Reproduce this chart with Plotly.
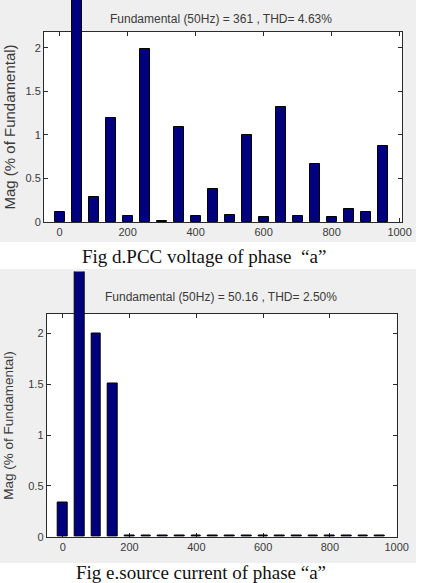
import plotly.graph_objects as go

# ---- data ----
freqs = [0, 50, 100, 150, 200, 250, 300, 350, 400, 450, 500, 550, 600, 650, 700, 750, 800, 850, 900, 950]
mag_voltage = [0.11, 100, 0.29, 1.19, 0.065, 1.98, 0.015, 1.09, 0.065, 0.38, 0.075, 1.0,
               0.055, 1.315, 0.065, 0.67, 0.055, 0.15, 0.11, 0.87]
mag_current = [0.34, 100, 2.0, 1.51, 0.012, 0.012, 0.012, 0.012, 0.012, 0.012, 0.012, 0.012,
               0.012, 0.012, 0.012, 0.012, 0.012, 0.012, 0.012, 0.012]
yticks = [0, 0.5, 1, 1.5, 2]
yticklabels = ["0", "0.5", "1", "1.5", "2"]
xticks = [0, 200, 400, 600, 800, 1000]
title_top = "Fundamental (50Hz) = 361 , THD= 4.63%"
title_bot = "Fundamental (50Hz) = 50.16 , THD= 2.50%"
caption_top = "Fig d.PCC voltage of phase  \u201ca\u201d"
caption_bot = "Fig e.source current of phase \u201ca\u201d"
ylabel = "Mag (% of Fundamental)"

W, H = 429, 583
BAR = "#00007f"
GREY = "#efefef"
FRAME = "#2a2a2a"
TXT = "#3a3a3a"
SANS = "Liberation Sans, Arial, sans-serif"
SERIF = "Liberation Serif, Times New Roman, serif"


def px(x):
    return x / W


def py(y):
    return 1 - y / H


fig = go.Figure()

panels = [
    dict(m=mag_voltage, l=44, t=32, r=402, b=222, top=0, ymax=2.18, xr=[-46, 1007],
         title=title_top, ty=19, cap=caption_top, cy=256.5, cx=203.5, grey=(0, 242),
         ylsize=15, ax=("x", "y", "x3", "y3")),
    dict(m=mag_current, l=46.7, t=314, r=396.7, b=536.7, top=271.5, ymax=2.19, xr=[-48, 1000],
         title=title_bot, ty=297, cap=caption_bot, cy=572.5, cx=201, grey=(269, 563),
         ylsize=13.5, ax=("x2", "y2", "x4", "y4")),
]

layout = dict(width=W, height=H, margin=dict(l=0, r=0, t=0, b=0, pad=0),
              paper_bgcolor="white", plot_bgcolor="rgba(0,0,0,0)",
              showlegend=False, shapes=[], annotations=[], bargap=0, autosize=False)


def axname(a):
    return ("xaxis" if a[0] == "x" else "yaxis") + a[1:]


for p in panels:
    xa, ya, xo, yo = p["ax"]
    dom_x = [px(p["l"]), px(p["r"])]
    dom_y = [py(p["b"]), py(p["t"])]
    dom_yo = [py(p["b"]), py(p["top"])]
    yo_max = p["ymax"] * (p["b"] - p["top"]) / (p["b"] - p["t"])

    layout["shapes"].append(dict(type="rect", xref="paper", yref="paper", layer="below",
                                 x0=0, x1=px(416), y0=py(p["grey"][1]), y1=py(p["grey"][0]),
                                 fillcolor=GREY, line=dict(width=0)))
    layout["shapes"].append(dict(type="rect", xref="paper", yref="paper", layer="below",
                                 x0=dom_x[0], x1=dom_x[1], y0=dom_y[0], y1=dom_y[1],
                                 fillcolor="white", line=dict(width=0)))

    layout[axname(xa)] = dict(
        domain=dom_x, anchor=ya, range=p["xr"], autorange=False, tickvals=xticks,
        ticks="inside", ticklen=4, tickcolor=FRAME, showline=True, linecolor=FRAME,
        linewidth=1, mirror="ticks", showgrid=False, zeroline=False, automargin=False,
        tickfont=dict(family=SANS, size=11, color=TXT), fixedrange=True)
    layout[axname(ya)] = dict(
        domain=dom_y, anchor=xa, range=[0, p["ymax"]], autorange=False, tickvals=yticks,
        ticktext=yticklabels, ticks="inside", ticklen=4, tickcolor=FRAME,
        showline=True, linecolor=FRAME, linewidth=1, mirror="ticks",
        showgrid=False, zeroline=False, automargin=False,
        tickfont=dict(family=SANS, size=11, color=TXT), fixedrange=True)
    layout[axname(xo)] = dict(domain=dom_x, anchor=yo, range=p["xr"], autorange=False,
                              visible=False, fixedrange=True)
    layout[axname(yo)] = dict(domain=dom_yo, anchor=xo, range=[0, yo_max], autorange=False,
                              visible=False, fixedrange=True)

    fig.add_trace(go.Scatter(x=[], y=[], xaxis=xa, yaxis=ya, hoverinfo="skip"))
    fig.add_trace(go.Bar(x=freqs, y=p["m"], width=29, xaxis=xo, yaxis=yo,
                         marker=dict(color=BAR, line=dict(color="#000000", width=1))))

    layout["annotations"].append(dict(
        text=p["title"], xref="paper", yref="paper", x=px(221), y=py(p["ty"]),
        xanchor="center", yanchor="middle", showarrow=False,
        font=dict(family=SANS, size=12, color=TXT)))
    layout["annotations"].append(dict(
        text=ylabel, xref="paper", yref="paper", x=px(8.5), y=py((p["t"] + p["b"]) / 2),
        xanchor="center", yanchor="middle", textangle=-90, showarrow=False,
        font=dict(family=SANS, size=p["ylsize"], color=TXT)))
    layout["annotations"].append(dict(
        text=p["cap"], xref="paper", yref="paper", x=px(p["cx"]), y=py(p["cy"]),
        xanchor="center", yanchor="middle", showarrow=False,
        font=dict(family=SERIF, size=19, color="#111111")))

fig.update_layout(**layout)
fig.write_html(
    "out.html",
    config={"responsive": False, "displayModeBar": False},
    post_script="document.documentElement.style.overflow='hidden';"
                "document.body.style.margin='0';document.body.style.overflow='hidden';",
)
